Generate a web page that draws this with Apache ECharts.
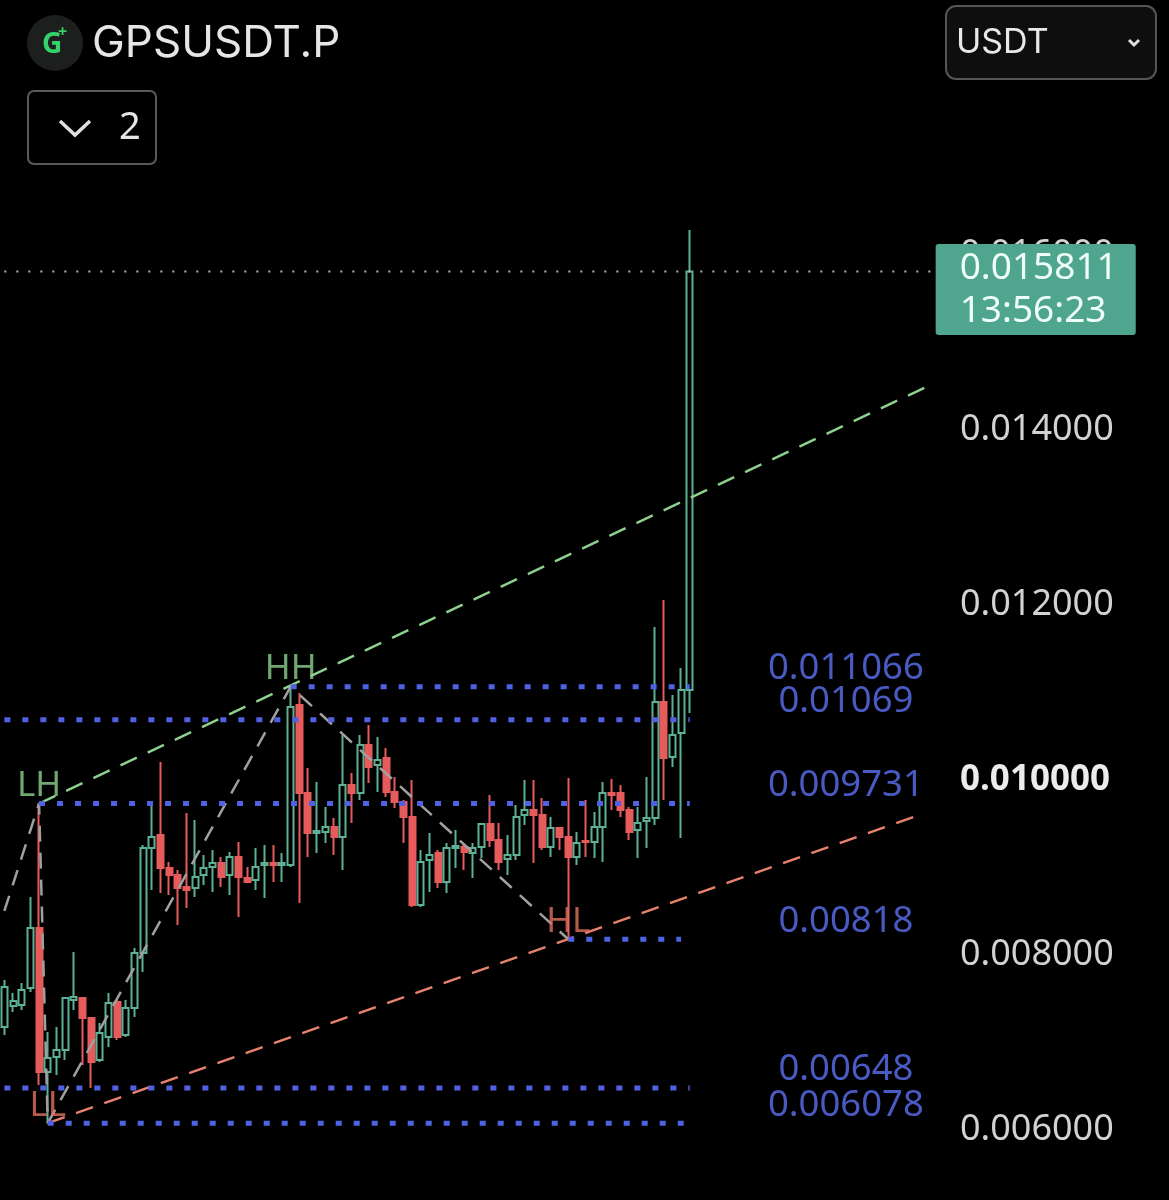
<!DOCTYPE html>
<html>
<head>
<meta charset="utf-8">
<script src="https://cdn.jsdelivr.net/npm/echarts@6/dist/echarts.min.js"></script>
<style>
  html, body { margin: 0; padding: 0; background: #000; }
  #chart { width: 1169px; height: 1200px; }
</style>
</head>
<body>
<div id="chart"></div>
<script>
// ---------- data ----------
const symbolName = 'GPSUSDT.P';
const quoteName = 'USDT';
const slotCount = 108;               // candle slots on the category axis (80 used)
const opens = [0.007177,0.007417,0.007429,0.007623,0.008309,0.006663,0.006834,0.006914,0.007486,0.007509,
  0.007280,0.006800,0.007063,0.007463,0.007086,0.007394,0.008023,0.009223,0.009371,0.008994,
  0.008914,0.008777,0.008766,0.008914,0.009006,0.009051,0.008914,0.009120,0.008880,0.008857,
  0.009029,0.009051,0.009029,0.009029,0.010857,0.009851,0.009394,0.009406,0.009463,0.009349,
  0.009943,0.009851,0.010400,0.010171,0.010251,0.009863,0.009749,0.009577,0.008571,0.009086,
  0.009166,0.008834,0.009223,0.009234,0.009166,0.009234,0.009497,0.009314,0.009097,0.009143,
  0.009600,0.009657,0.009600,0.009234,0.009451,0.009349,0.009120,0.009303,0.009291,0.009463,
  0.009851,0.009851,0.009657,0.009429,0.009531,0.009566,0.010891,0.010263,0.010537,0.011029];
const closes = [0.007634,0.007474,0.007600,0.008309,0.006663,0.006823,0.006914,0.007509,0.007520,0.007280,
  0.006777,0.007109,0.007451,0.007063,0.007394,0.008023,0.009223,0.009349,0.008994,0.008914,
  0.008766,0.008743,0.008891,0.008994,0.009051,0.008891,0.009120,0.008891,0.008834,0.009006,
  0.009051,0.009029,0.009051,0.010834,0.009851,0.009394,0.009417,0.009463,0.009349,0.009943,
  0.009851,0.010400,0.010149,0.010229,0.009863,0.009749,0.009577,0.008571,0.009063,0.009143,
  0.008834,0.009223,0.009246,0.009177,0.009223,0.009497,0.009314,0.009063,0.009143,0.009577,
  0.009657,0.009600,0.009234,0.009451,0.009349,0.009120,0.009280,0.009291,0.009463,0.009851,
  0.009829,0.009657,0.009406,0.009509,0.009566,0.010891,0.010251,0.010514,0.011029,0.015811];
const lows = [0.007086,0.007349,0.007371,0.007577,0.006514,0.006078,0.006629,0.006800,0.007371,0.006743,
  0.006480,0.006777,0.006949,0.007029,0.007063,0.007291,0.007806,0.008743,0.008709,0.008686,
  0.008343,0.008537,0.008663,0.008800,0.008720,0.008777,0.008686,0.008434,0.008823,0.008743,
  0.008651,0.008834,0.008834,0.009006,0.008594,0.009120,0.009166,0.009280,0.009143,0.008971,
  0.009509,0.009771,0.009966,0.009863,0.009806,0.009680,0.009280,0.008549,0.008549,0.008720,
  0.008766,0.008709,0.008994,0.008971,0.008880,0.009109,0.009234,0.008971,0.008914,0.009086,
  0.009486,0.009051,0.009200,0.009120,0.009200,0.008180,0.009029,0.009120,0.009109,0.009063,
  0.009657,0.009577,0.009314,0.009109,0.009223,0.009486,0.009771,0.010149,0.009337,0.010766];
const highs = [0.007714,0.007566,0.007680,0.008663,0.009731,0.007120,0.007177,0.007520,0.008034,0.007520,
  0.007291,0.007223,0.007566,0.007486,0.007486,0.008080,0.009257,0.009749,0.010206,0.009063,
  0.008971,0.009623,0.009543,0.009143,0.009200,0.009120,0.009177,0.009291,0.009006,0.009223,
  0.009257,0.009257,0.009166,0.011066,0.010994,0.010137,0.009977,0.009691,0.009566,0.010514,
  0.010080,0.010514,0.010629,0.010491,0.010366,0.010034,0.009771,0.010000,0.009200,0.009394,
  0.009200,0.009280,0.009429,0.009280,0.009280,0.009509,0.009829,0.009509,0.009371,0.009714,
  0.010000,0.010000,0.009794,0.009577,0.009463,0.010023,0.009406,0.009771,0.009634,0.009977,
  0.010011,0.009943,0.009691,0.009691,0.010034,0.011749,0.012057,0.010971,0.011280,0.016286];
const lastPrice = 0.015811;
const lastTimer = '13:56:23';
const yTicks = { min: 0.006, max: 0.0168, interval: 0.002 };

// horizontal levels: [value, startIndex, endIndex]
const levelValues = [0.011066, 0.01069, 0.009731, 0.00818, 0.00648, 0.006078];
const levelStarts = [33, 0, 4, 65, 0, 5];
const levelEnds   = [79, 79, 79, 78, 79, 79];
const levelLabelSlot = 97;

// swing points
const swingNames = ['LH', 'LL', 'HH', 'HL'];
const swingIdx   = [4, 5, 33, 65];
const swingVals  = [0.009731, 0.006078, 0.011066, 0.00818];
// zig-zag structure path (first point read at left edge)
const zigIdx  = [0, 4, 5, 33, 65];
const zigVals = [0.008503, 0.009731, 0.006078, 0.011066, 0.00818];
// trend lines (end values read at right edge)
const upperTrend = [[4, 0.009731], [107, 0.014526]];
const lowerTrend = [[5, 0.006078], [106, 0.00962]];

// ---------- build ----------
const slots = Array.from({ length: slotCount }, (_, i) => String(i));
const candles = opens.map((o, i) => [o, closes[i], lows[i], highs[i]]);

const GREEN = '#5cb294';
const RED = '#e65b5b';
const BLUE = '#4f62e4';
const BLUE_TXT = '#5d70f4';
const FONT = '"Noto Sans", "Open Sans", sans-serif';

const series = [];
series.push({
  type: 'candlestick',
  data: candles,
  barWidth: 6.5,
  z: 2,
  itemStyle: {
    color: '#000', color0: RED,
    borderColor: GREEN, borderColor0: RED, borderColorDoji: GREEN,
    borderWidth: 2
  }
});

// last price dotted line with its price tag
series.push({
  type: 'line', z: 8, silent: true, symbol: 'none',
  data: [[0, lastPrice], [slotCount - 1, lastPrice]],
  lineStyle: { color: '#b5b5b5', type: [2, 10], width: 2 },
  endLabel: {
    show: true, distance: 3, offset: [0, 18],
    formatter: () => lastPrice.toFixed(6) + '\n' + lastTimer,
    backgroundColor: '#4fa58e', color: '#effff8',
    fontFamily: FONT, fontSize: 37, lineHeight: 43,
    padding: [3, 18, 2, 24], borderRadius: 3
  }
});

levelValues.forEach((v, k) => {
  series.push({
    type: 'line', z: 4, silent: true, symbol: 'none',
    data: [[levelStarts[k], v], [levelEnds[k], v]],
    lineStyle: { color: BLUE, width: 5, type: [6, 12] }
  });
});

series.push({
  type: 'scatter', z: 5, silent: true, symbolSize: 0,
  data: levelValues.map(v => [levelLabelSlot, v]),
  label: {
    show: true, position: 'top', distance: 1,
    formatter: p => String(p.value[1]),
    color: BLUE_TXT, fontFamily: FONT, fontSize: 36.5, lineHeight: 34
  }
});

series.push({
  type: 'line', z: 3, silent: true, symbol: 'none',
  data: zigIdx.map((x, i) => [x, zigVals[i]]),
  lineStyle: { color: '#a0a0a0', width: 2.5, type: [16, 11] }
});
series.push({
  type: 'line', z: 3, silent: true, symbol: 'none',
  data: upperTrend,
  lineStyle: { color: '#8ed08e', width: 2.5, type: [18, 12] }
});
series.push({
  type: 'line', z: 3, silent: true, symbol: 'none',
  data: lowerTrend,
  lineStyle: { color: '#e8826e', width: 2.5, type: [18, 12] }
});

const swingColor = n => (n === 'LH' || n === 'HH') ? '#8ccf8c' : '#e4705e';
series.push({
  type: 'scatter', z: 6, silent: true, symbolSize: 0,
  data: swingIdx.map((x, i) => ({
    value: [x, swingVals[i]], name: swingNames[i],
    label: { color: swingColor(swingNames[i]) }
  })),
  label: {
    show: true, position: 'top', distance: 0,
    formatter: p => p.name,
    fontFamily: FONT, fontSize: 35
  }
});

const chart = echarts.init(document.getElementById('chart'), null, { renderer: 'canvas' });
chart.setOption({
  backgroundColor: '#000',
  animation: false,
  grid: { left: -4, right: 232, top: 185, bottom: 70, containLabel: false },
  xAxis: {
    type: 'category', data: slots, boundaryGap: true,
    axisLine: { show: false }, axisTick: { show: false }, axisLabel: { show: false },
    splitLine: { show: false }
  },
  yAxis: {
    type: 'value', position: 'right', scale: true,
    min: yTicks.min, max: yTicks.max, interval: yTicks.interval,
    axisLine: { show: false }, axisTick: { show: false }, splitLine: { show: false },
    axisLabel: {
      margin: 23, showMaxLabel: false,
      color: '#d2d2d2', fontFamily: FONT, fontSize: 36,
      formatter: v => Math.abs(v - 0.01) < 1e-9 ? '{b|' + v.toFixed(6) + '}' : v.toFixed(6),
      rich: { b: { color: '#ececec', fontWeight: 'bold', fontFamily: FONT, fontSize: 35 } }
    }
  },
  graphic: [
    { type: 'circle', shape: { cx: 55, cy: 43, r: 28 }, style: { fill: '#1d1f1e' } },
    { type: 'text', x: 42, y: 45, style: { text: 'G', fill: '#35d16a', font: 'bold 28px "Noto Sans"', verticalAlign: 'middle' } },
    { type: 'text', x: 58, y: 32, style: { text: '+', fill: '#35d16a', font: 'bold 16px "Noto Sans"', verticalAlign: 'middle' } },
    { type: 'text', x: 92, y: 44, style: { text: symbolName, fill: '#e6e6e6', font: '44px Inter', verticalAlign: 'middle' } },
    { type: 'rect', shape: { x: 28, y: 91, width: 128, height: 73, r: 6 }, style: { fill: 'none', stroke: '#5a5a5a', lineWidth: 2 } },
    { type: 'polyline', shape: { points: [[60, 121], [75, 135], [90, 121]] }, style: { stroke: '#e0e0e0', lineWidth: 3.5, fill: 'none' } },
    { type: 'text', x: 119, y: 128, style: { text: '2', fill: '#e6e6e6', font: '38px "Noto Sans"', verticalAlign: 'middle' } },
    { type: 'rect', shape: { x: 946, y: 6, width: 210, height: 73, r: 10 }, style: { fill: '#0e0e0e', stroke: '#555', lineWidth: 2 } },
    { type: 'text', x: 956, y: 43, style: { text: quoteName, fill: '#e8e8e8', font: '34px Inter', verticalAlign: 'middle' } },
    { type: 'polyline', shape: { points: [[1129, 40], [1134, 45], [1139, 40]] }, style: { stroke: '#e0e0e0', lineWidth: 3, fill: 'none' } }
  ],
  series: series
});
</script>
</body>
</html>
